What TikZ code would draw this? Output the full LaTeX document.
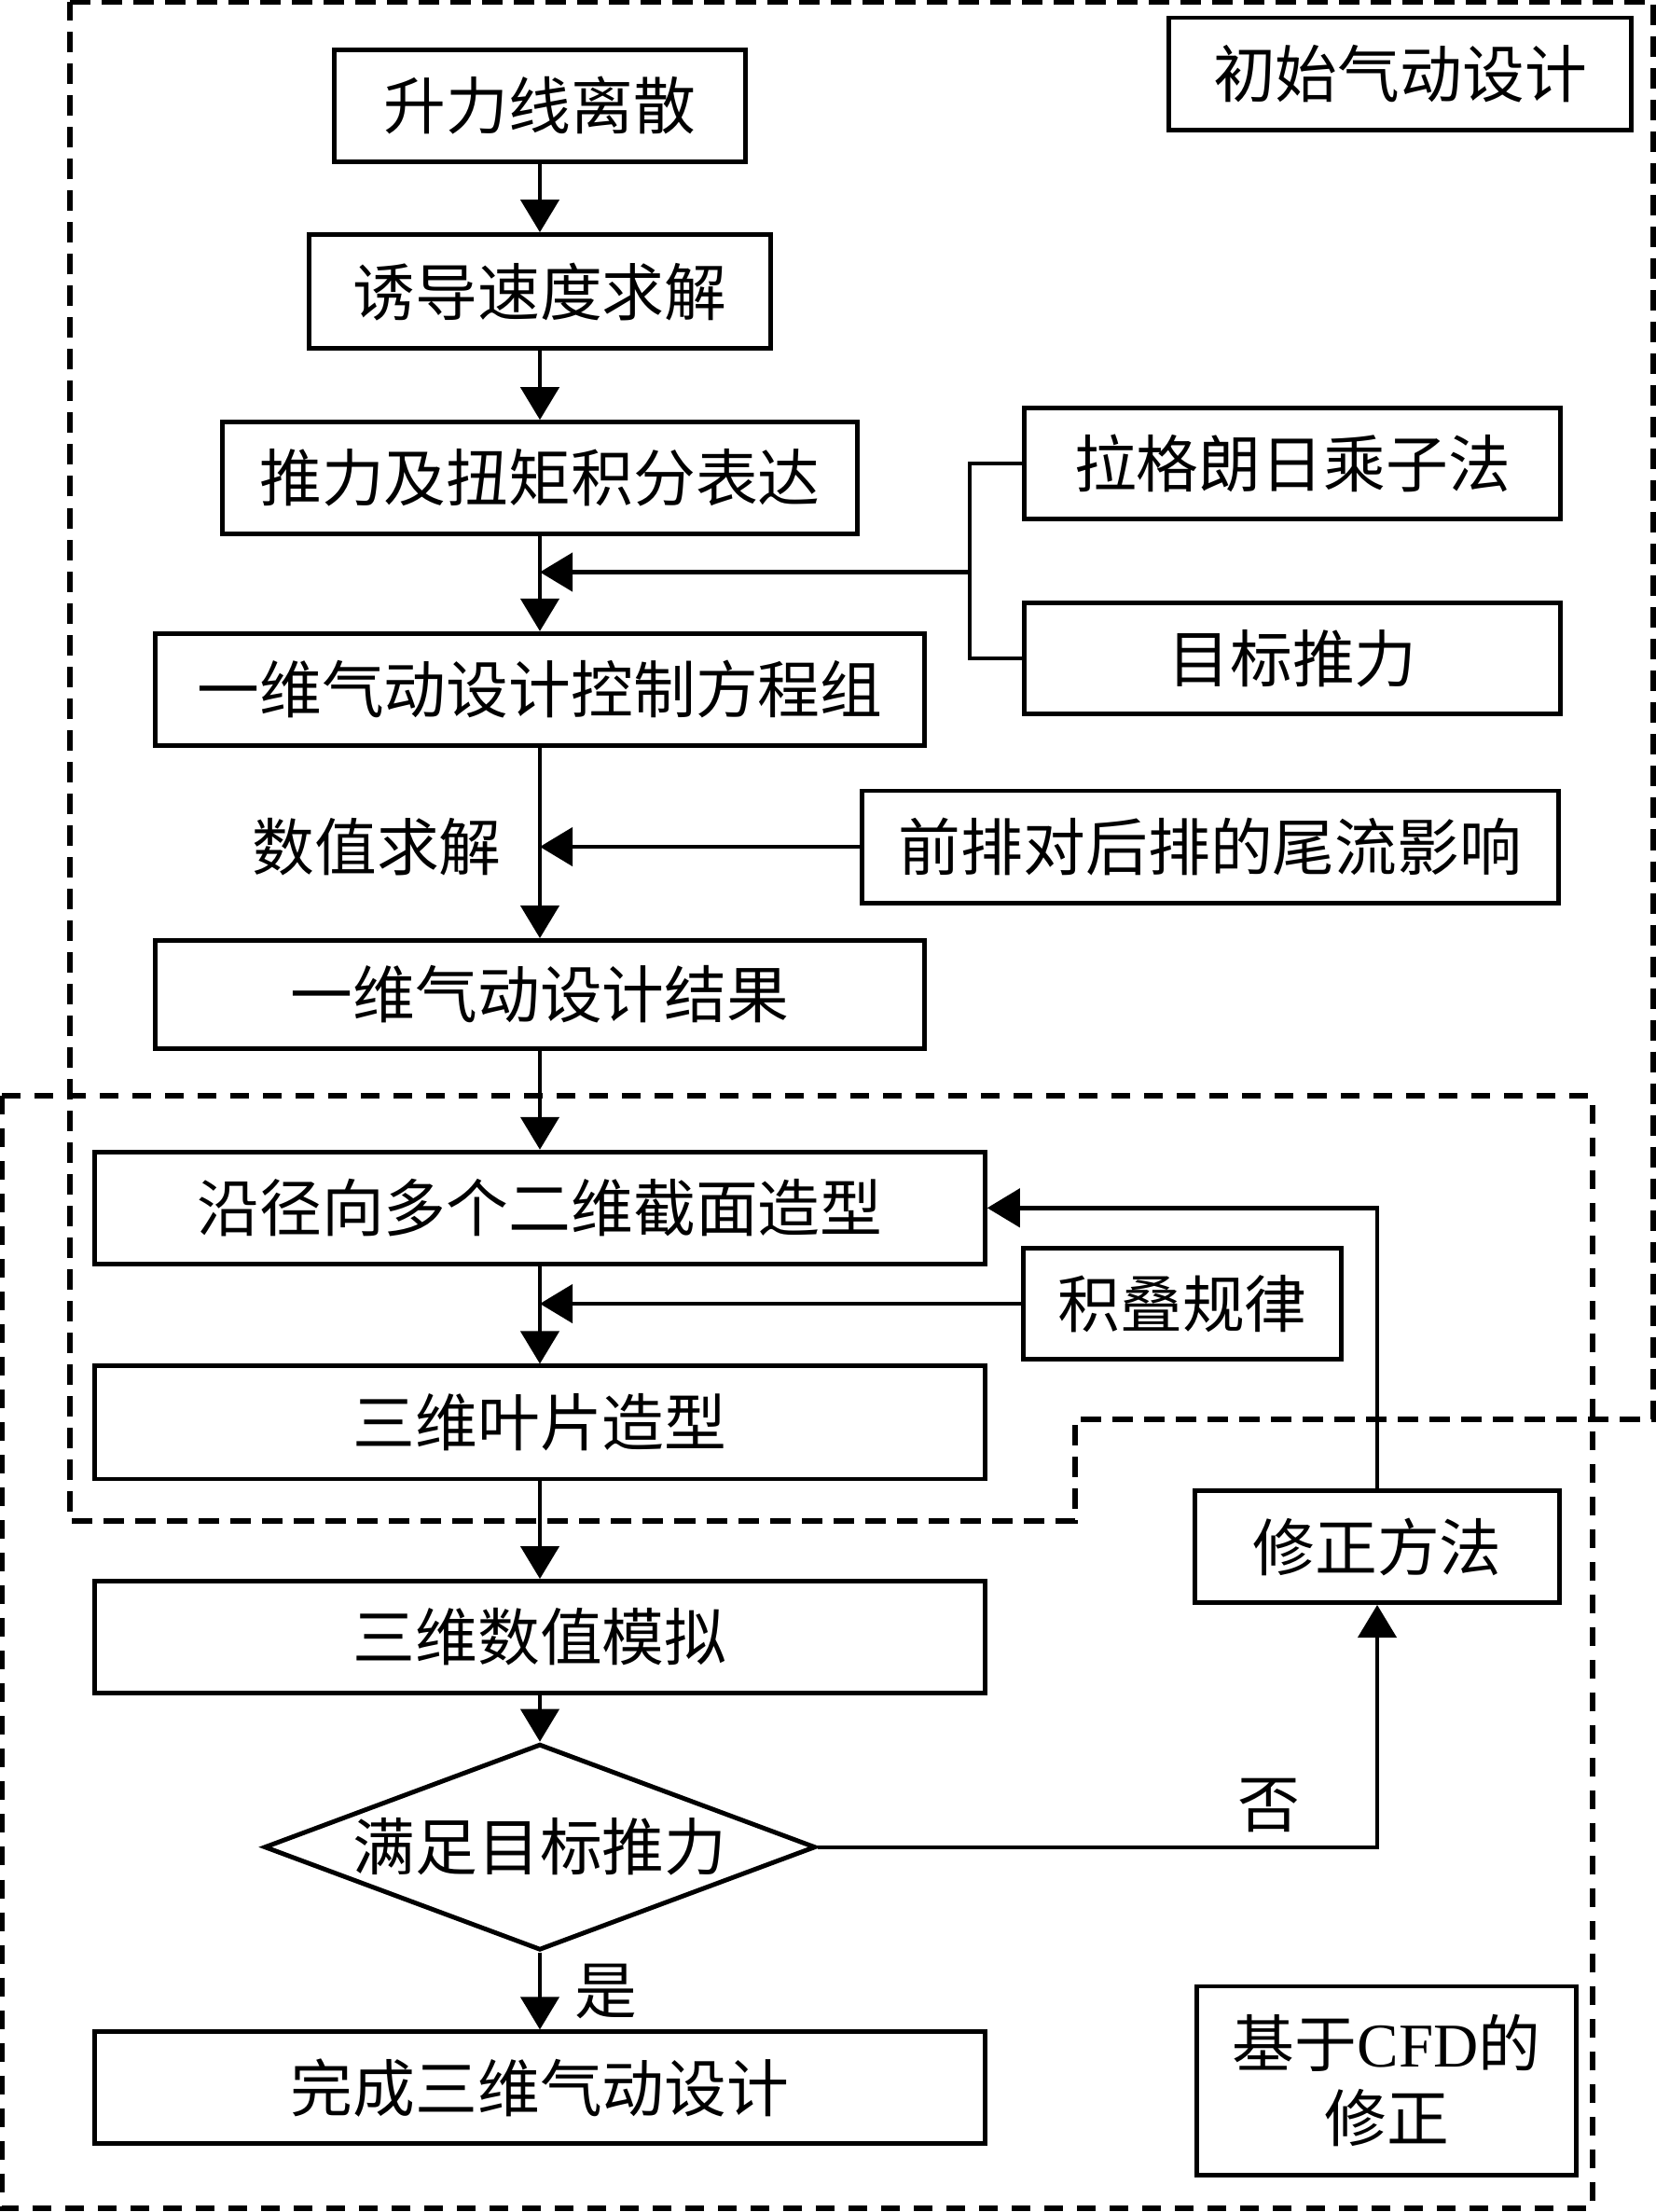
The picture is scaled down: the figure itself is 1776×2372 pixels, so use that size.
\documentclass[tikz,border=0pt]{standalone}
\usepackage{fontspec}
\setmainfont{Liberation Serif}
\newfontfamily\cjk{Noto Sans CJK SC}
\usetikzlibrary{positioning, arrows.meta, shapes.geometric}

\begin{document}
\begin{tikzpicture}[x=0.01cm, y=-0.01cm, on grid,
                font=\cjk\fontsize{19pt}{22.5pt}\selectfont]
                \tikzset{
                    box/.style={draw, rectangle, line width=1.4pt, inner sep=0pt, minimum height=1.2cm},
                    link/.style={line width=1.25pt},
                    flow/.style={link, -{Triangle[length=3.5mm, width=4.1mm]}},
                    zone/.style={line width=1.45pt, dash pattern=on 2.2mm off 1.2mm},
                    tag/.style={inner sep=0pt}
                }
                \useasboundingbox (0,0) rectangle (1776,2372);

                % FRAMES
                \draw[zone] (75,2) -- (1773,2) -- (1773,1522) -- (1153,1522) -- (1153,1631) -- (75,1631) -- cycle;
                \draw[zone, dash pattern=on 2mm off 1.5mm] (2,1175) rectangle (1708,2368);

                % MAIN FLOW
                \node[box, minimum width=4.41cm] (lift) at (579,113.5) {升力线离散};
                \node[box, minimum width=4.95cm, minimum height=1.22cm] (induce) [below=1.99cm of lift] {诱导速度求解};
                \node[box, minimum width=6.80cm] (thrust) [below=2cm of induce] {推力及扭矩积分表达};
                \node[box, minimum width=8.24cm] (gov) [below=2.265cm of thrust] {一维气动设计控制方程组};
                \node[box, minimum width=8.25cm, minimum height=1.16cm] (res) [below=3.27cm of gov] {一维气动设计结果};
                \node[box, minimum width=9.54cm] (sect) [below=2.286cm of res] {沿径向多个二维截面造型};
                \node[box, minimum width=9.54cm, minimum height=1.21cm] (blade) [below=2.3cm of sect] {三维叶片造型};
                \node[box, minimum width=9.54cm] (sim) [below=2.3cm of blade] {三维数值模拟};
                \node[draw, diamond, aspect=2.674, line width=1.4pt, inner sep=0pt,
                      minimum width=5.91cm, minimum height=2.21cm] (chk) [below=2.25cm of sim] {满足目标推力};
                \node[box, minimum width=9.54cm] (done) [below=2.58cm of chk] {完成三维气动设计};

                % SIDE INPUTS
                \node[box, minimum width=4.96cm] (init) at (1501.5,79) {初始气动设计};
                \node[box, minimum width=5.75cm, minimum height=1.19cm] (lag) at (1386,497) {拉格朗日乘子法};
                \node[box, minimum width=5.75cm, minimum height=1.19cm] (tgt) at (1386,706) {目标推力};
                \node[box, minimum width=7.46cm] (wake) at (1298,908) {前排对后排的尾流影响};
                \node[box, minimum width=3.41cm, minimum height=1.19cm] (stack) at (1268,1398) {积叠规律};
                \node[box, minimum width=3.90cm] (fix) at (1477,1658.5) {修正方法};
                \node[box, minimum width=4.06cm, minimum height=2.02cm, align=center] (cfd) at (1487,2231) {基于{\rmfamily CFD}的\\修正};
                \coordinate (jn) at (1040,613.5);

                % ARROWS
                \draw[flow] (lift) -- (induce);
                \draw[flow] (induce) -- (thrust);
                \draw[flow] (thrust) -- (gov);
                \draw[flow] (gov) -- (res);
                \draw[flow] (res) -- (sect);
                \draw[flow] (sect) -- (blade);
                \draw[flow] (blade) -- (sim);
                \draw[flow] (sim) -- (chk);
                \draw[flow] (chk) -- (done) node[tag, midway, right=0.35cm] (yes) {是};

                \draw[link] (lag.west) -| (jn);
                \draw[link] (tgt.west) -| (jn);
                \draw[flow] (jn) -- (jn -| thrust.south);
                \draw[flow] (wake.west) -- (wake.west -| gov.south)
                    node[tag, anchor=east, xshift=-0.39cm] (solve) {数值求解};
                \draw[flow] (stack.west) -- (stack.west -| sect.south);
                \draw[flow] (chk.east) -| (fix.south) node[tag, pos=0.403, above=0.14cm] (no) {否};
                \draw[flow] (fix.north) |- (sect.east);

            \end{tikzpicture}
\end{document}
